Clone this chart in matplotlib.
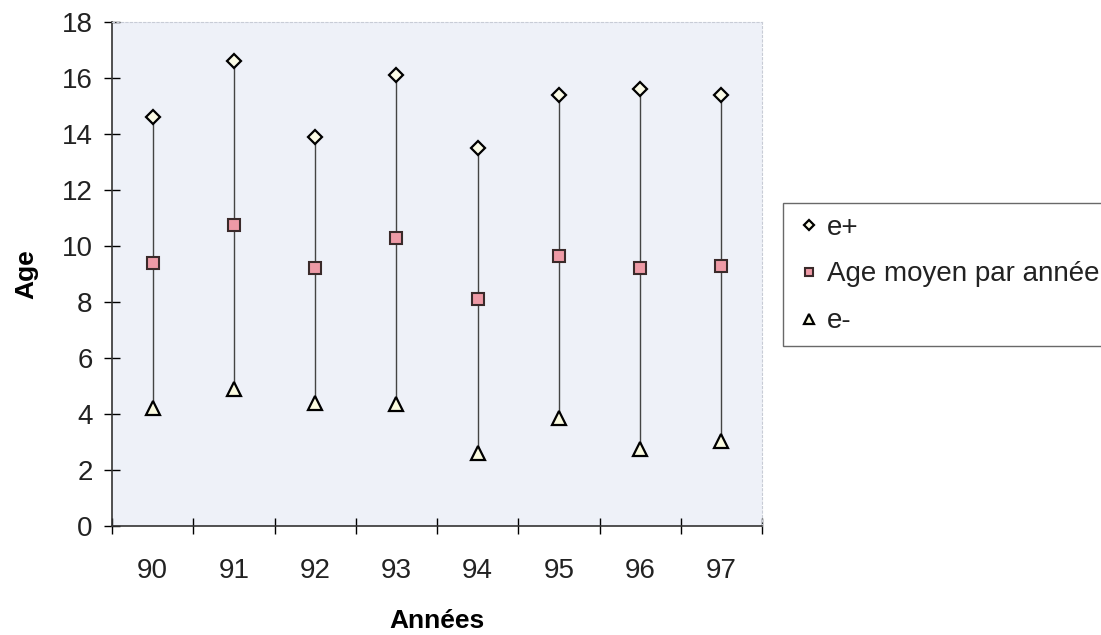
import numpy as np
import matplotlib
matplotlib.use("Agg")
import matplotlib.pyplot as plt

plt.rcParams['font.family'] = ['Liberation Sans', 'DejaVu Sans']

# data
years = ["90", "91", "92", "93", "94", "95", "96", "97"]
e_plus = [14.6, 16.6, 13.9, 16.1, 13.5, 15.4, 15.6, 15.4]
age_moyen = [9.4, 10.75, 9.2, 10.3, 8.1, 9.65, 9.2, 9.3]
e_minus = [4.2, 4.9, 4.4, 4.35, 2.6, 3.85, 2.75, 3.05]

fig = plt.figure(figsize=(11.01, 6.35), dpi=100)
ax = fig.add_axes([112 / 1101, 1 - 526 / 635, 650 / 1101, 504 / 635])
ax.set_facecolor("#eef1f8")

x = np.arange(len(years))

# high-low lines
ax.vlines(x, e_minus, e_plus, color="#444444", linewidth=1.0, zorder=2)

ax.plot(x, e_plus, linestyle="none", marker="D", markersize=7.5,
        markerfacecolor="#fbfbe6", markeredgecolor="black", markeredgewidth=1.6,
        label="e+", zorder=3)
ax.plot(x, age_moyen, linestyle="none", marker="s", markersize=9,
        markerfacecolor="#ee9aa6", markeredgecolor="#3a2a2a", markeredgewidth=1.5,
        label="Age moyen par année", zorder=3)
ax.plot(x, e_minus, linestyle="none", marker="^", markersize=10,
        markerfacecolor="#fbfbe0", markeredgecolor="black", markeredgewidth=1.6,
        label="e-", zorder=3)

ax.set_xlim(-0.5, len(years) - 0.5)
ax.set_ylim(0, 18)
ax.set_yticks(range(0, 19, 2))
ax.set_xticks(x)
ax.set_xticklabels(years)
ax.set_xticks(np.arange(-0.5, len(years)), minor=True)

ax.tick_params(axis="x", which="major", length=0, pad=23, labelsize=20, labelcolor="#222222")
ax.tick_params(axis="x", which="minor", direction="inout", length=12, width=1.0)
ax.tick_params(axis="y", direction="inout", length=12, width=1.0, pad=8, labelsize=20,
               labelcolor="#222222")

for s in ["left", "bottom"]:
    ax.spines[s].set_color("#333333")
    ax.spines[s].set_linewidth(1.2)
for s in ["top", "right"]:
    ax.spines[s].set_color("#c8ccd6")
    ax.spines[s].set_linestyle((0, (2, 2)))
    ax.spines[s].set_linewidth(0.8)

ax.set_xlabel("Années", fontsize=19, fontweight="bold", labelpad=18)
ax.set_ylabel("Age", fontsize=19, fontweight="bold", labelpad=17)

leg = fig.legend(loc="upper left", bbox_to_anchor=(783 / 1101, 1 - 203 / 635),
                 fontsize=20, frameon=True, fancybox=False, handlelength=1.0,
                 handletextpad=0.15, labelspacing=0.75, borderpad=0.42,
                 borderaxespad=0, markerscale=0.7)
leg.get_frame().set_edgecolor("#444444")
leg.get_frame().set_linewidth(1.0)
for t in leg.get_texts():
    t.set_color("#222222")

fig.savefig("out.png", dpi=100)
